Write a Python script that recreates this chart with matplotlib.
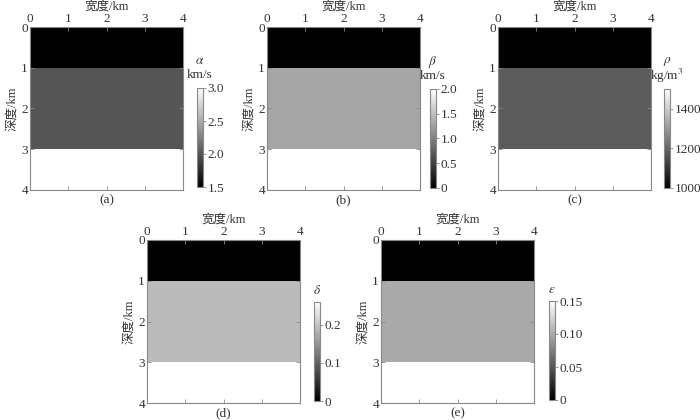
import matplotlib
matplotlib.use("Agg")
import matplotlib.pyplot as plt
import numpy as np

plt.rcParams['font.family'] = ['Liberation Serif', 'Noto Sans CJK SC', 'DejaVu Sans']
plt.rcParams['mathtext.fontset'] = 'stix'

# data
depth_edges = [0, 1, 3, 4]        # km
width_edges = [0, 4]              # km
alpha_vals = [1.5, 2.0, 3.0]      # km/s
beta_vals = [0.0, 1.3, 2.0]       # km/s
rho_vals = [1000, 1180, 1500]     # kg/m^3
delta_vals = [0.0, 0.19, 0.26]
eps_vals = [0.0, 0.1, 0.15]

panels = [
    dict(vals=alpha_vals, vmin=1.5, vmax=3.0, ticks=[1.5, 2.0, 2.5, 3.0], fmt='{:.1f}',
         sym=r'$\alpha$', unit='km/s', lab='(a)'),
    dict(vals=beta_vals, vmin=0, vmax=2.0, ticks=[0, 0.5, 1.0, 1.5, 2.0], fmt='{:.1f}',
         sym=r'$\beta$', unit='km/s', lab='(b)'),
    dict(vals=rho_vals, vmin=1000, vmax=1500, ticks=[1000, 1200, 1400], fmt='{:.0f}',
         sym=r'$\rho$', unit='kg/m$^3$', lab='(c)'),
    dict(vals=delta_vals, vmin=0, vmax=0.26, ticks=[0, 0.1, 0.2], fmt='{:.1f}',
         sym=r'$\delta$', unit=None, lab='(d)'),
    dict(vals=eps_vals, vmin=0, vmax=0.15, ticks=[0, 0.05, 0.10, 0.15], fmt='{:.2f}',
         sym=r'$\varepsilon$', unit=None, lab='(e)'),
]

W, H = 700, 420
ax_rects = [(30, 27), (267, 27), (498, 27), (147, 240), (381, 240)]   # left, top px
cb_rects = [(197, 88), (430, 89), (664, 89), (314, 302), (549, 301)]
axw, axh = 153, 163
cbw, cbh = 6, 99

fig = plt.figure(figsize=(7, 4.2), dpi=100)
txtc = '#333333'
edgec = '#888888'
fs = 9.5

for p, (l, t), (cl, ct) in zip(panels, ax_rects, cb_rects):
    ax = fig.add_axes([l / W, 1 - (t + axh) / H, axw / W, axh / H])
    C = np.array(p['vals'], dtype=float).reshape(-1, 1)
    mesh = ax.pcolormesh(width_edges, depth_edges, C, cmap='gray',
                         vmin=p['vmin'], vmax=p['vmax'], shading='flat')
    ax.set_xlim(0, 4)
    ax.set_ylim(4, 0)
    ax.set_xticks([0, 1, 2, 3, 4])
    ax.set_yticks([0, 1, 2, 3, 4])
    ax.xaxis.tick_top()
    ax.xaxis.set_label_position('top')
    ax.tick_params(direction='in', length=3, width=0.6, colors=edgec,
                   labelcolor=txtc, labelsize=fs, pad=1.5)
    ax.tick_params(axis='x', top=True, bottom=True)
    ax.tick_params(axis='y', left=True, right=True)
    ax.set_xlabel('宽度/km', fontsize=9, color=txtc, labelpad=2)
    ax.set_ylabel('深度/km', fontsize=9, color=txtc, labelpad=2)
    for s in ax.spines.values():
        s.set_color(edgec)
        s.set_linewidth(0.8)
    fig.text((l + axw / 2) / W, 1 - (t + axh + 10) / H, p['lab'],
             ha='center', va='center', fontsize=fs, color=txtc)

    cax = fig.add_axes([cl / W, 1 - (ct + cbh) / H, cbw / W, cbh / H])
    cb = fig.colorbar(mesh, cax=cax, ticks=p['ticks'])
    cb.set_ticklabels([('0' if v == 0 else p['fmt'].format(v)) for v in p['ticks']])
    cb.outline.set_edgecolor(edgec)
    cb.outline.set_linewidth(0.8)
    cax.tick_params(length=2.5, width=0.6, colors=edgec, labelcolor=txtc,
                    labelsize=fs, pad=1)
    cx = (cl + cbw / 2) / W
    if p['unit']:
        fig.text(cx, 1 - (ct - 27) / H, p['sym'], ha='center', va='center',
                 fontsize=fs, color=txtc)
        fig.text(cx, 1 - (ct - 13) / H, p['unit'], ha='center', va='center',
                 fontsize=fs, color=txtc)
    else:
        fig.text(cx, 1 - (ct - 11) / H, p['sym'], ha='center', va='center',
                 fontsize=fs, color=txtc)

fig.savefig('out.png', dpi=100)
